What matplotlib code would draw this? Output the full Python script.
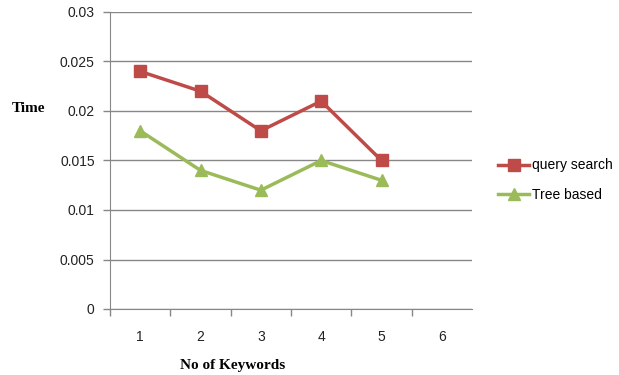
import matplotlib.pyplot as plt
import numpy as np
from matplotlib.ticker import FixedLocator, NullFormatter

keywords = [1, 2, 3, 4, 5]
categories = ['1', '2', '3', '4', '5', '6']
query_search = [0.024, 0.022, 0.018, 0.021, 0.015]
tree_based = [0.018, 0.014, 0.012, 0.015, 0.013]
y_ticks = [0, 0.005, 0.01, 0.015, 0.02, 0.025, 0.03]
y_labels = ['0', '0.005', '0.01', '0.015', '0.02', '0.025', '0.03']

red = '#BE4B48'
green = '#9BBB59'
grid_col = '#878787'

fig = plt.figure(figsize=(6.19, 3.75), dpi=100)
ax = fig.add_axes([110/619, 1-309/375, 362/619, 297/375])

ax.plot(keywords, query_search, color=red, lw=2.5, marker='s', ms=8, label='query search')
ax.plot(keywords, tree_based, color=green, lw=2.5, marker='^', ms=9, label='Tree based')

ax.set_xlim(0.5, 6.5)
ax.set_ylim(0, 0.03)
ax.set_yticks(y_ticks)
ax.set_yticklabels(y_labels, fontfamily='Liberation Sans', fontsize=10, color='#222222')
ax.yaxis.grid(True, color=grid_col, lw=1)
ax.set_axisbelow(True)

# category labels at centres, tick marks at boundaries (none at far right)
ax.xaxis.set_major_locator(FixedLocator(np.arange(0.5, 6.0, 1.0)))
ax.xaxis.set_major_formatter(NullFormatter())
for i, c in enumerate(categories):
    ax.text(i + 1, -0.0028, c, ha='center', va='center', fontsize=10,
            fontfamily='Liberation Sans', color='#222222')

ax.tick_params(axis='both', length=5, color=grid_col, width=1)
ax.tick_params(axis='y', pad=6)
for s in ['top', 'right']:
    ax.spines[s].set_visible(False)
for s in ['left', 'bottom']:
    ax.spines[s].set_color(grid_col)

fig.text(12/619, 1-109/375, 'Time', fontfamily='Liberation Serif', fontweight='bold',
         fontsize=11, va='center', ha='left')
fig.text(233/619, 1-366/375, 'No of Keywords', fontfamily='Liberation Serif',
         fontweight='bold', fontsize=11, va='center', ha='center')

leg = fig.legend(loc='upper left', bbox_to_anchor=(486/619, 1-146/375), frameon=False,
                 prop={'family': 'Liberation Sans', 'size': 10}, handlelength=2.2,
                 labelspacing=1.1, handletextpad=0.2)

fig.savefig('out.png', dpi=100)
